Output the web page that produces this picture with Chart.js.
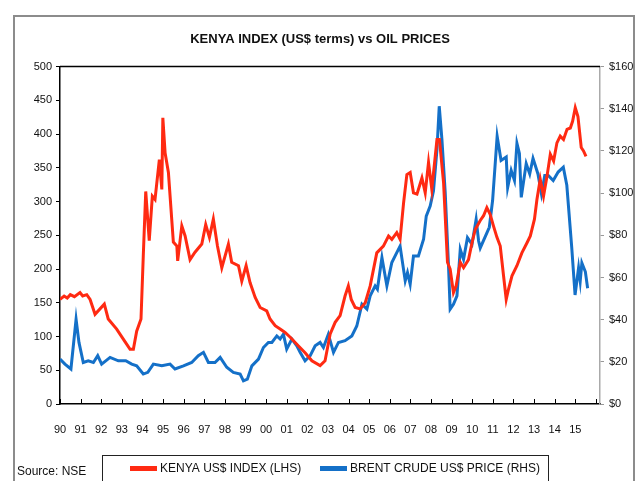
<!DOCTYPE html>
<html>
<head>
<meta charset="utf-8">
<script src="https://cdn.jsdelivr.net/npm/chart.js@4.4.1/dist/chart.umd.min.js"></script>
<style>
  html, body { margin: 0; padding: 0; background: #fff; }
  #wrap { width: 640px; height: 481px; position: relative; }
</style>
</head>
<body>
<div id="wrap"><canvas id="my-chart"></canvas></div>
<script>
// Kenya US$ index (left axis) at its turning points
const kenyaYears = [
  1990.00, 1990.20, 1990.35, 1990.50, 1990.70, 1990.97, 1991.10, 1991.30, 1991.46, 1991.70,
  1992.15, 1992.34, 1992.75, 1993.16, 1993.40, 1993.56, 1993.72, 1993.93, 1994.04, 1994.16,
  1994.33, 1994.48, 1994.61, 1994.82, 1994.94, 1994.99, 1995.10, 1995.26, 1995.50, 1995.67,
  1995.71, 1995.91, 1996.07, 1996.31, 1996.55, 1996.88, 1997.07, 1997.25, 1997.44, 1997.64,
  1997.85, 1998.17, 1998.33, 1998.66, 1998.82, 1999.03, 1999.22, 1999.47, 1999.71, 2000.03,
  2000.19, 2000.44, 2000.68, 2000.92, 2001.17, 2001.57, 2001.89, 2002.22, 2002.62, 2002.86,
  2003.11, 2003.35, 2003.59, 2003.83, 2003.99, 2004.13, 2004.32, 2004.56, 2004.81, 2005.05,
  2005.37, 2005.69, 2005.94, 2006.10, 2006.34, 2006.50, 2006.67, 2006.83, 2006.99, 2007.15,
  2007.32, 2007.56, 2007.72, 2007.88, 2008.04, 2008.29, 2008.41, 2008.61, 2008.80, 2008.93,
  2009.09, 2009.22, 2009.42, 2009.58, 2009.82, 2009.99, 2010.15, 2010.39, 2010.55, 2010.71,
  2010.87, 2011.03, 2011.20, 2011.36, 2011.52, 2011.65, 2011.76, 2011.93, 2012.17, 2012.41,
  2012.66, 2012.82, 2013.02, 2013.14, 2013.30, 2013.46, 2013.63, 2013.79, 2013.95, 2014.11,
  2014.27, 2014.43, 2014.60, 2014.76, 2014.87, 2015.00, 2015.13, 2015.29, 2015.40, 2015.52
];
const kenyaIndex = [
  155, 160, 157, 162, 159, 165, 160, 162, 155, 133,
  148, 126, 111, 92, 81, 81, 108, 126, 219, 315,
  242, 308, 303, 362, 318, 424, 372, 343, 240, 234,
  212, 264, 249, 214, 225, 237, 266, 247, 274, 234,
  202, 237, 210, 205, 182, 205, 180, 158, 143, 138,
  126, 116, 111, 106, 99, 86, 76, 64, 57, 64,
  104, 121, 131, 160, 175, 155, 143, 141, 150, 175,
  224, 234, 249, 244, 254, 244, 298, 340, 343, 313,
  311, 335, 313, 358, 318, 392, 392, 328, 210, 200,
  165, 175, 210, 202, 214, 239, 259, 272, 279, 291,
  281, 264, 247, 234, 190, 155, 170, 190, 205, 224,
  239, 249, 274, 303, 333, 308, 338, 370, 360, 387,
  397, 392, 407, 409, 419, 439, 426, 380, 375, 367
];

// Brent crude US$ price (right axis)
const brentYears = [
  1990.00, 1990.24, 1990.53, 1990.78, 1990.92, 1991.13, 1991.37, 1991.62, 1991.83, 1992.02,
  1992.43, 1992.83, 1993.19, 1993.48, 1993.72, 1994.04, 1994.26, 1994.53, 1994.94, 1995.34,
  1995.58, 1995.99, 1996.39, 1996.71, 1996.96, 1997.20, 1997.52, 1997.77, 1998.09, 1998.41,
  1998.74, 1998.90, 1999.09, 1999.31, 1999.63, 1999.87, 2000.11, 2000.28, 2000.52, 2000.68,
  2000.84, 2001.00, 2001.25, 2001.49, 2001.65, 2001.89, 2002.14, 2002.38, 2002.62, 2002.78,
  2003.02, 2003.27, 2003.51, 2003.83, 2004.16, 2004.40, 2004.65, 2004.89, 2005.05, 2005.29,
  2005.40, 2005.62, 2005.86, 2006.10, 2006.34, 2006.50, 2006.75, 2006.86, 2006.99, 2007.15,
  2007.39, 2007.64, 2007.77, 2007.96, 2008.12, 2008.29, 2008.40, 2008.53, 2008.69, 2008.85,
  2008.93, 2009.09, 2009.26, 2009.42, 2009.58, 2009.77, 2009.99, 2010.19, 2010.31, 2010.39,
  2010.83, 2010.99, 2011.21, 2011.40, 2011.65, 2011.72, 2011.89, 2012.05, 2012.17, 2012.29,
  2012.38, 2012.62, 2012.79, 2012.95, 2013.19, 2013.36, 2013.52, 2013.69, 2013.93, 2014.17,
  2014.42, 2014.59, 2014.83, 2014.99, 2015.16, 2015.24, 2015.32, 2015.49, 2015.60
];
const brentPrice = [
  21.3, 18.9, 16.6, 40.2, 29.2, 19.7, 20.5, 19.7, 22.9, 18.9,
  22.1, 20.5, 20.5, 18.9, 18.1, 14.2, 15.0, 18.9, 18.1, 18.9,
  16.6, 18.1, 19.7, 22.9, 24.5, 19.7, 19.7, 22.1, 17.4, 15.0,
  14.2, 11.0, 11.8, 18.1, 21.3, 26.8, 29.2, 29.2, 32.3, 30.8,
  33.1, 26.0, 30.8, 27.6, 24.5, 20.5, 22.9, 27.6, 29.2, 26.8,
  33.1, 24.5, 29.2, 30.0, 32.3, 37.0, 47.3, 45.0, 51.3, 56.0,
  54.4, 69.4, 56.0, 67.1, 71.8, 74.9, 58.4, 62.3, 56.8, 70.2,
  70.2, 78.1, 89.1, 93.9, 101.0, 120.7, 141.2, 125.5, 100.2, 65.5,
  45.0, 47.3, 51.3, 73.4, 68.6, 78.9, 75.7, 87.6, 77.3, 74.0,
  83.8, 96.6, 127.0, 115.5, 117.1, 102.7, 110.8, 106.0, 123.6, 118.8,
  98.0, 114.0, 109.1, 116.5, 109.1, 99.6, 108.4, 108.4, 106.0, 110.0,
  112.3, 103.7, 74.0, 51.7, 64.5, 58.2, 66.9, 62.7, 54.9
];

const yearTicks = [1990, 1991, 1992, 1993, 1994, 1995, 1996, 1997, 1998, 1999, 2000, 2001, 2002,
  2003, 2004, 2005, 2006, 2007, 2008, 2009, 2010, 2011, 2012, 2013, 2014, 2015];
const leftTicks = [0, 50, 100, 150, 200, 250, 300, 350, 400, 450, 500];
const rightTicks = [0, 20, 40, 60, 80, 100, 120, 140, 160];

const FONT = "'Liberation Sans Narrow', 'Arial Narrow', 'Liberation Sans', Arial, sans-serif";
const RED = "#ff2a12";
const BLUE = "#1470c8";

// frame, top border, inward year ticks, legend and source note
const decor = {
  id: "decor",
  afterDraw(chart) {
    const ctx = chart.ctx;
    const a = chart.chartArea;
    const x = chart.scales.x;
    ctx.save();
    ctx.strokeStyle = "#8c8c8c";
    ctx.lineWidth = 2;
    ctx.strokeRect(14, 16, 620, 480);

    ctx.strokeStyle = "#000";
    ctx.lineWidth = 1.5;
    ctx.beginPath();
    ctx.moveTo(a.left, a.top);
    ctx.lineTo(a.right, a.top);
    ctx.stroke();

    ctx.lineWidth = 1;
    ctx.beginPath();
    yearTicks.concat([2016]).forEach(function (v) {
      const px = Math.round(x.getPixelForValue(v)) + 0.5;
      ctx.moveTo(px, a.bottom);
      ctx.lineTo(px, a.bottom - 5);
    });
    ctx.stroke();

    // legend
    ctx.strokeStyle = "#222";
    ctx.lineWidth = 1;
    ctx.strokeRect(102.5, 455.5, 446, 40);
    ctx.font = "12px " + FONT;
    ctx.textBaseline = "middle";
    chart.data.datasets.forEach(function (ds, i) {
      const lx = i === 0 ? 130 : 320;
      ctx.fillStyle = ds.borderColor;
      ctx.fillRect(lx, 466, 27, 5);
      ctx.fillStyle = "#111";
      ctx.fillText(ds.label, lx + 30, 469);
    });

    ctx.fillStyle = "#111";
    ctx.fillText("Source: NSE", 17, 472);
    ctx.restore();
  }
};

const config = {
  type: "line",
  data: {
    datasets: [
      {
        label: "KENYA US$ INDEX (LHS)",
        data: kenyaYears.map((yr, i) => ({ x: yr, y: kenyaIndex[i] })),
        borderColor: RED,
        backgroundColor: RED,
        borderWidth: 3,
        pointRadius: 0,
        yAxisID: "y",
      },
      {
        label: "BRENT CRUDE US$ PRICE (RHS)",
        data: brentYears.map((yr, i) => ({ x: yr, y: brentPrice[i] })),
        borderColor: BLUE,
        backgroundColor: BLUE,
        borderWidth: 3,
        pointRadius: 0,
        yAxisID: "y1",
      },
    ],
  },
  options: {
    responsive: true,
    maintainAspectRatio: false,
    animation: false,
    layout: { padding: { left: 0, right: 0, top: 0, bottom: 43 } },
    plugins: {
      title: {
        display: true,
        text: "KENYA INDEX (US$ terms) vs OIL PRICES",
        color: "#111",
        font: { family: FONT, size: 13, weight: "bold" },
        padding: { top: 32, bottom: 19 },
      },
      legend: { display: false },
      tooltip: { enabled: false },
    },
    scales: {
      x: {
        type: "linear",
        min: 1990,
        max: 2016.2,
        afterBuildTicks: (s) => { s.ticks = yearTicks.map((v) => ({ value: v })); },
        afterFit: (s) => { s.height = 34; },
        ticks: {
          autoSkip: false,
          maxRotation: 0,
          padding: 11,
          color: "#111",
          font: { family: FONT, size: 11 },
          callback: (v) => String(v % 100).padStart(2, "0"),
        },
        grid: { display: false },
        border: { display: true, color: "#000", width: 1.5 },
      },
      y: {
        position: "left",
        min: 0,
        max: 500,
        afterBuildTicks: (s) => { s.ticks = leftTicks.map((v) => ({ value: v })); },
        afterFit: (s) => { s.width = 60; },
        ticks: { padding: 4, color: "#111", font: { family: FONT, size: 11 } },
        grid: { drawOnChartArea: false, drawTicks: true, tickLength: 4, color: "#000" },
        border: { display: true, color: "#000", width: 1.5 },
      },
      y1: {
        position: "right",
        min: 0,
        max: 160,
        afterBuildTicks: (s) => { s.ticks = rightTicks.map((v) => ({ value: v })); },
        afterFit: (s) => { s.width = 40; },
        ticks: {
          padding: 5,
          color: "#111",
          font: { family: FONT, size: 11 },
          callback: (v) => "$" + v,
        },
        grid: { drawOnChartArea: false, drawTicks: true, tickLength: 4, color: "#999" },
        border: { display: true, color: "#aaa", width: 1.5 },
      },
    },
  },
  plugins: [decor],
};

const myChart = new Chart(document.getElementById("my-chart"), config);
</script>
</body>
</html>
